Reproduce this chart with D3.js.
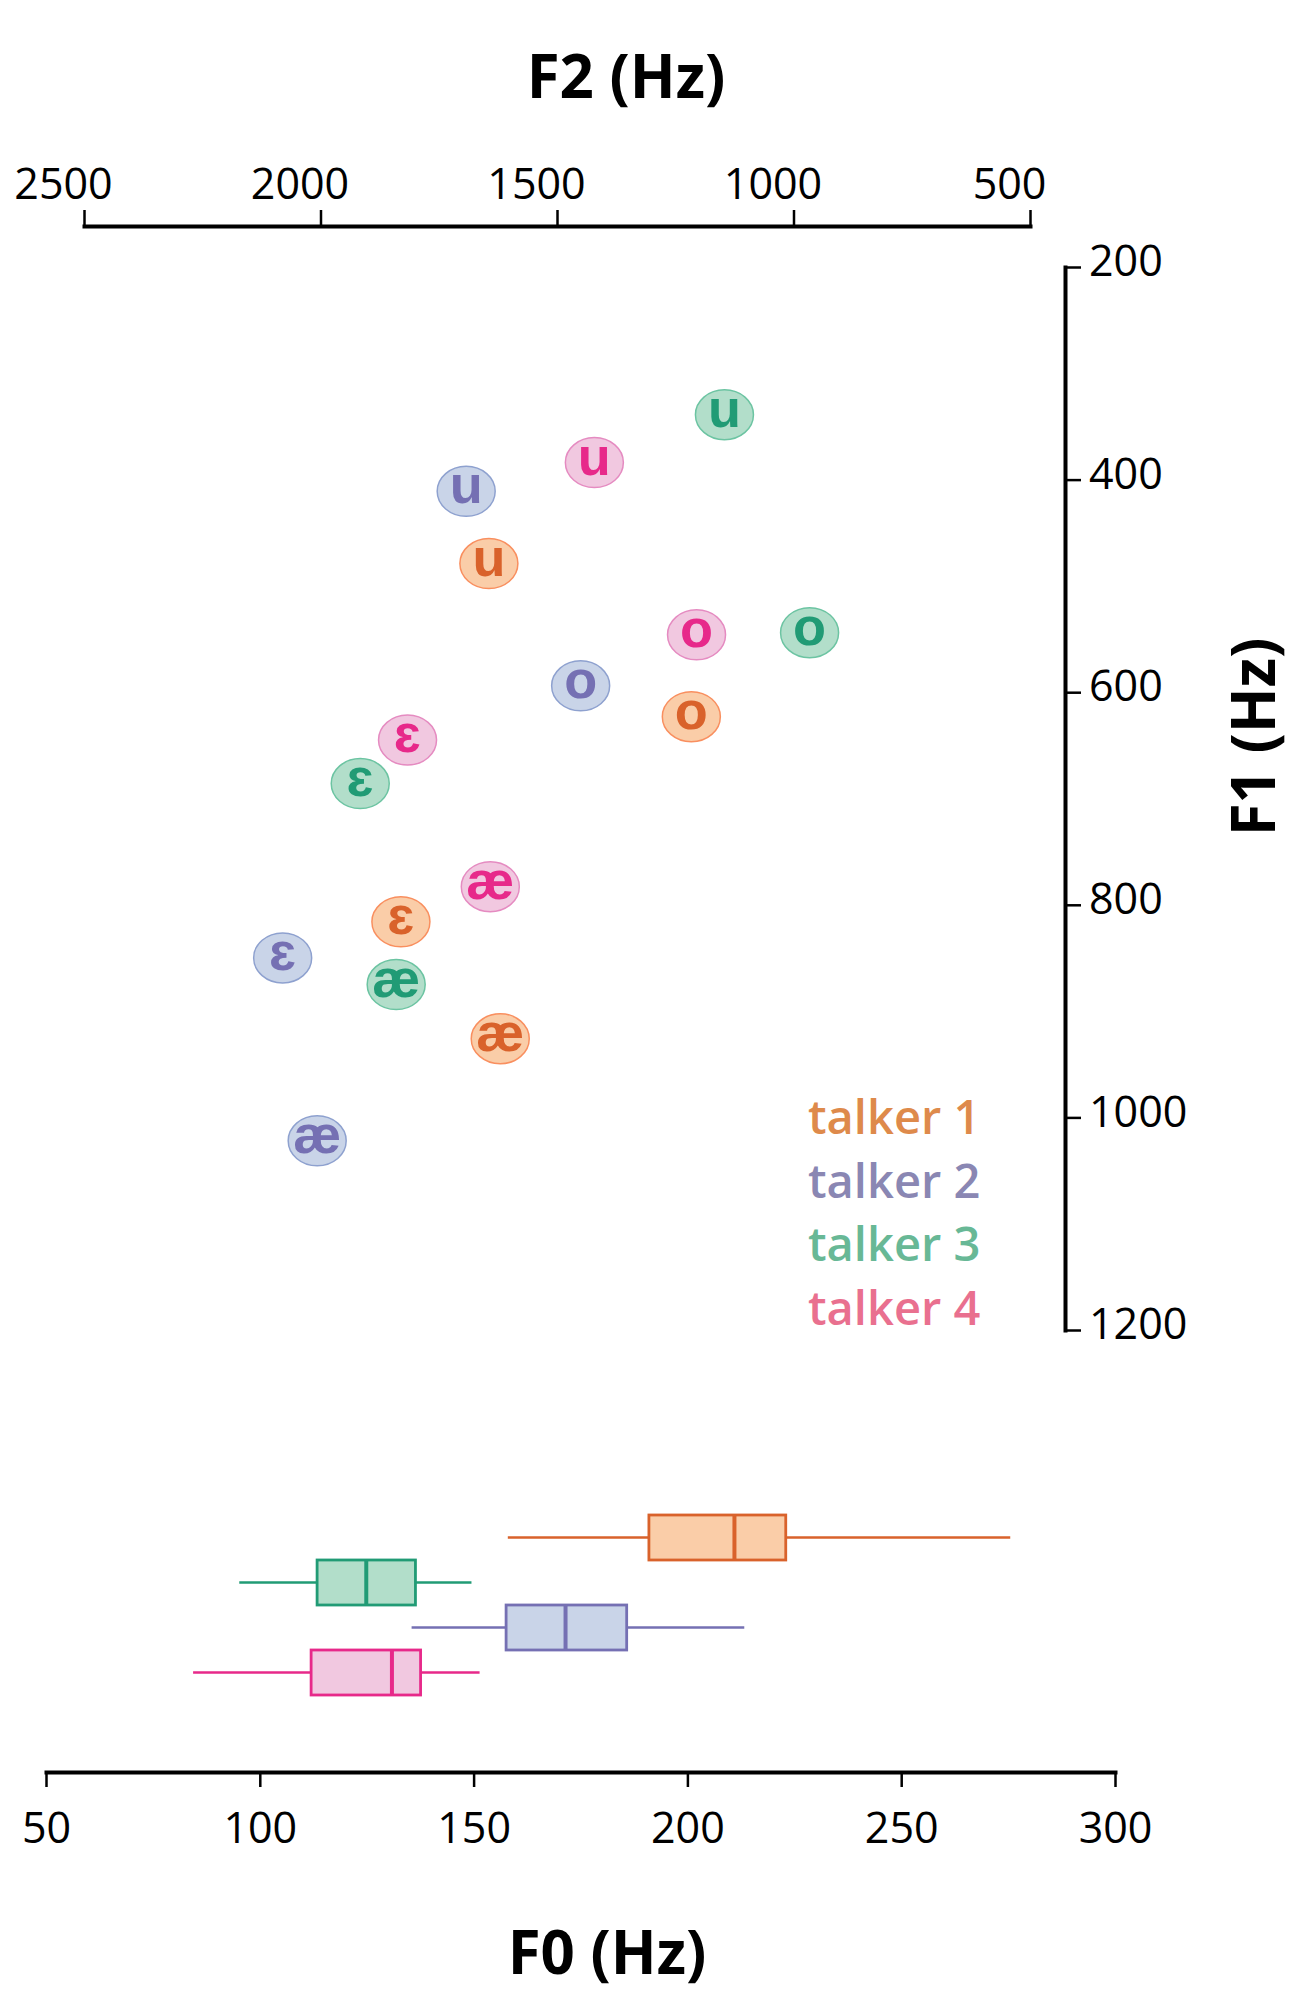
<!DOCTYPE html>
<html>
<head>
<meta charset="utf-8">
<script src="https://cdn.jsdelivr.net/npm/d3@7"></script>
<style>
  body { margin: 0; background: #fff; }
  .axis text { font-family: "Open Sans", sans-serif; font-size: 43px; fill: #000; }
  .axis .domain { stroke: #000; stroke-width: 4px; }
  .axis .tick line { stroke: #000; stroke-width: 2.5px; }
  .title { font-family: "Open Sans", sans-serif; font-weight: 700; font-size: 60px; }
</style>
</head>
<body>
<div id="chart"></div>
<script>
const width = 1294;
const height = 1993;

// formant data, one entry per vowel
const vowels = ["u", "o", "ɛ", "æ"];
const talkers = ["talker 1", "talker 2", "talker 3", "talker 4"];

const f2Talker1 = [1644, 1216, 1830, 1620];
const f1Talker1 = [479, 623, 816, 926];
const f2Talker2 = [1692, 1450, 2080, 2007];
const f1Talker2 = [411, 594, 850, 1022];
const f2Talker3 = [1146, 966, 1916, 1840];
const f1Talker3 = [339, 544, 686, 875];
const f2Talker4 = [1421, 1205, 1816, 1641];
const f1Talker4 = [384, 546, 645, 783];

// F0 summary: low whisker, q1, median, q3, high whisker
const f0Talker1 = [158, 191, 211, 223, 275.5];
const f0Talker2 = [135.5, 157.6, 171.5, 185.8, 213.3];
const f0Talker3 = [95.2, 113.4, 124.9, 136.4, 149.5];
const f0Talker4 = [84.4, 112, 130.9, 137.6, 151.4];
const boxOrder = ["talker 1", "talker 3", "talker 2", "talker 4"];

const f2Ticks = [2500, 2000, 1500, 1000, 500];
const f1Ticks = [200, 400, 600, 800, 1000, 1200];
const f0Ticks = [50, 100, 150, 200, 250, 300];

const colors = {
  "talker 1": { dark: "#d9622b", fill: "#facda8", edge: "#f98f5f", legend: "#de8a4b" },
  "talker 2": { dark: "#7570b3", fill: "#c9d4e8", edge: "#8ea1cf", legend: "#8a87b3" },
  "talker 3": { dark: "#219b75", fill: "#b2deca", edge: "#6cc4a2", legend: "#68b896" },
  "talker 4": { dark: "#e7298a", fill: "#f1c8e0", edge: "#e58bc1", legend: "#e9708f" }
};

const points = [];
[[f2Talker1, f1Talker1], [f2Talker2, f1Talker2], [f2Talker3, f1Talker3], [f2Talker4, f1Talker4]]
  .forEach(function(pair, t) {
    vowels.forEach(function(v, i) {
      points.push({ talker: talkers[t], vowel: v, f2: pair[0][i], f1: pair[1][i] });
    });
  });

const boxes = [
  { talker: "talker 1", s: f0Talker1 },
  { talker: "talker 2", s: f0Talker2 },
  { talker: "talker 3", s: f0Talker3 },
  { talker: "talker 4", s: f0Talker4 }
];

const svg = d3.select("#chart").append("svg")
  .attr("width", width)
  .attr("height", height);

const x = d3.scaleLinear().domain([2500, 500]).range([84, 1030]);
const y = d3.scaleLinear().domain([200, 1200]).range([267, 1330]);
const xF0 = d3.scaleLinear().domain([50, 300]).range([46, 1115]);
const yBox = d3.scaleBand().domain(boxOrder).range([1515, 1695]).padding(0);

// top axis (F2), labels sit a bit left of their ticks
const xAxis = svg.append("g")
  .attr("class", "axis")
  .attr("transform", "translate(0,226)")
  .call(d3.axisTop(x).tickValues(f2Ticks).tickSize(16).tickSizeOuter(0).tickPadding(11).tickFormat(d3.format("d")));
xAxis.selectAll(".tick text").attr("x", -21);

// right axis (F1)
const yAxis = svg.append("g")
  .attr("class", "axis")
  .attr("transform", "translate(1065,0)")
  .call(d3.axisRight(y).tickValues(f1Ticks).tickSize(16).tickSizeOuter(0).tickPadding(8).tickFormat(d3.format("d")));
yAxis.selectAll(".tick text").attr("y", -5).attr("text-anchor", "start");

// bottom axis (F0)
svg.append("g")
  .attr("class", "axis")
  .attr("transform", "translate(0,1772)")
  .call(d3.axisBottom(xF0).tickValues(f0Ticks).tickSize(15).tickSizeOuter(0).tickPadding(25).tickFormat(d3.format("d")));

svg.selectAll(".axis .domain").attr("stroke-linecap", "square");

// axis titles
svg.append("text").attr("class", "title")
  .attr("x", 626).attr("y", 98).attr("text-anchor", "middle")
  .text("F2 (Hz)");
svg.append("text").attr("class", "title")
  .attr("transform", "translate(1275,737) rotate(-90)")
  .attr("text-anchor", "middle")
  .text("F1 (Hz)");
svg.append("text").attr("class", "title")
  .attr("x", 607).attr("y", 1974).attr("text-anchor", "middle")
  .text("F0 (Hz)");

// vowel markers
const marks = svg.append("g").selectAll("g")
  .data(points)
  .join("g")
  .attr("transform", d => "translate(" + x(d.f2) + "," + y(d.f1) + ")");

marks.append("ellipse")
  .attr("rx", 29)
  .attr("ry", 25)
  .attr("fill", d => colors[d.talker].fill)
  .attr("stroke", d => colors[d.talker].edge)
  .attr("stroke-width", 1.5);

marks.append("text")
  .attr("text-anchor", "middle")
  .attr("y", 12)
  .attr("font-family", "'Liberation Sans', Arial, sans-serif")
  .attr("font-weight", 700)
  .attr("font-size", 54)
  .attr("fill", d => colors[d.talker].dark)
  .text(d => d.vowel);

// legend
svg.append("g").selectAll("text")
  .data(talkers)
  .join("text")
  .attr("x", 808)
  .attr("y", (d, i) => 1134 + i * 63.7)
  .attr("font-family", "'Open Sans', sans-serif")
  .attr("font-weight", 600)
  .attr("font-size", 47)
  .attr("fill", d => colors[d].legend)
  .text(d => d);

// F0 box plots
const bx = svg.append("g").selectAll("g")
  .data(boxes)
  .join("g")
  .attr("transform", d => "translate(0," + yBox(d.talker) + ")");

const bh = yBox.bandwidth();

bx.append("line")
  .attr("x1", d => xF0(d.s[0])).attr("x2", d => xF0(d.s[1]))
  .attr("y1", bh / 2).attr("y2", bh / 2)
  .attr("stroke", d => colors[d.talker].dark).attr("stroke-width", 2.5);
bx.append("line")
  .attr("x1", d => xF0(d.s[3])).attr("x2", d => xF0(d.s[4]))
  .attr("y1", bh / 2).attr("y2", bh / 2)
  .attr("stroke", d => colors[d.talker].dark).attr("stroke-width", 2.5);
bx.append("rect")
  .attr("x", d => xF0(d.s[1]))
  .attr("width", d => xF0(d.s[3]) - xF0(d.s[1]))
  .attr("y", 0)
  .attr("height", bh)
  .attr("fill", d => colors[d.talker].fill)
  .attr("stroke", d => colors[d.talker].dark)
  .attr("stroke-width", 2.8);
bx.append("line")
  .attr("x1", d => xF0(d.s[2])).attr("x2", d => xF0(d.s[2]))
  .attr("y1", 0).attr("y2", bh)
  .attr("stroke", d => colors[d.talker].dark).attr("stroke-width", 4);
</script>
</body>
</html>
